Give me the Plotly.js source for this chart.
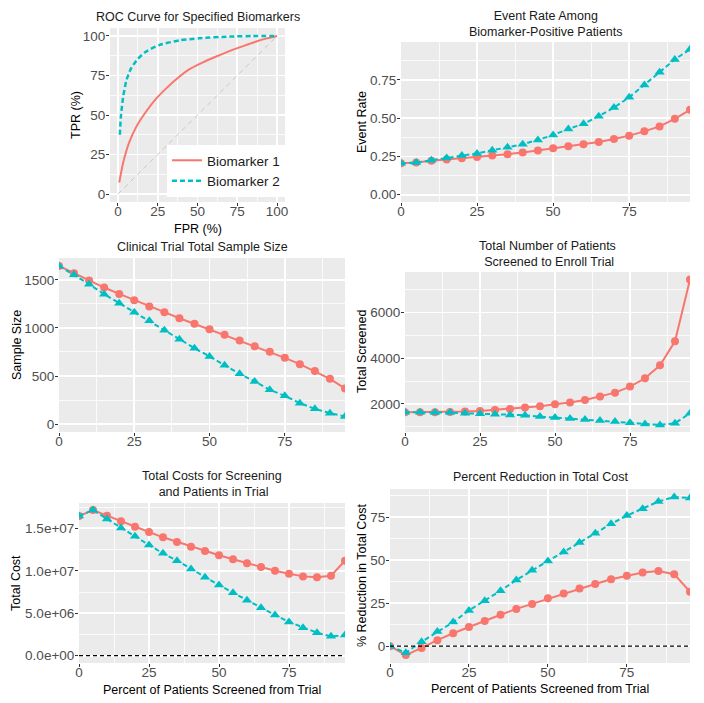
<!DOCTYPE html>
<html>
<head>
<meta charset="utf-8">
<script src="https://cdn.plot.ly/plotly-3.0.1.min.js"></script>
<style>
html,body{margin:0;padding:0;background:#fff;}
#chart{width:704px;height:703px;}
</style>
</head>
<body>
<div id="chart"></div>
<script>
// ---------------- DATA ----------------
const seriesNames = ["Biomarker 1", "Biomarker 2"];

// ROC curves (percent)
const rocFpr1 = [0.8, 3.2, 6.8, 11.5, 17.5, 24, 30, 36.5, 45, 53.4, 61.8, 71.6, 80, 87, 93, 100];
const rocTpr1 = [7.3, 19.5, 32, 42.5, 51.9, 60.3, 66.5, 72.5, 79, 83.3, 87, 91, 94, 96.5, 98.3, 100];
const rocFpr2 = [1.2, 1.8, 3.2, 5.2, 8, 12.4, 17.6, 26, 38.7, 51, 70, 85, 100];
const rocTpr2 = [37.5, 48.5, 61, 71.5, 79, 85.4, 90, 94.2, 97.2, 98.5, 99.6, 99.9, 100];
const refLine = [0, 100];

// Percent of patients screened from trial
const pctScreened = [0, 5, 10, 15, 20, 25, 30, 35, 40, 45, 50, 55, 60, 65, 70, 75, 80, 85, 90, 95];

// Event rate among biomarker-positive patients
const eventRate1 = [0.205, 0.211, 0.222, 0.230, 0.239, 0.246, 0.256, 0.265, 0.276, 0.289, 0.304, 0.317, 0.330, 0.345, 0.364, 0.386, 0.414, 0.446, 0.496, 0.555];
const eventRate2 = [0.205, 0.210, 0.225, 0.240, 0.256, 0.270, 0.290, 0.310, 0.330, 0.358, 0.390, 0.430, 0.463, 0.513, 0.569, 0.636, 0.716, 0.800, 0.884, 0.950];

// Clinical trial total sample size
const sampleSize1 = [1645, 1569, 1493, 1420, 1354, 1288, 1223, 1164, 1101, 1043, 987, 928, 869, 810, 752, 689, 623, 551, 471, 371];
const sampleSize2 = [1645, 1552, 1455, 1351, 1257, 1164, 1074, 977, 883, 790, 703, 613, 523, 443, 357, 294, 218, 159, 114, 80];

// Total number of patients screened
const screened1 = [1635, 1635, 1640, 1650, 1665, 1690, 1735, 1780, 1840, 1900, 1985, 2060, 2175, 2320, 2495, 2760, 3125, 3695, 4745, 7450];
const screened2 = [1635, 1635, 1620, 1620, 1590, 1575, 1545, 1520, 1505, 1445, 1400, 1360, 1315, 1270, 1225, 1170, 1125, 1080, 1155, 1590];

// Total costs
const totalCost1 = [16450000, 17160000, 16490000, 15820000, 15190000, 14570000, 13940000, 13390000, 12840000, 12330000, 11820000, 11350000, 10880000, 10440000, 10010000, 9660000, 9340000, 9230000, 9420000, 11190000];
const totalCost2 = [16450000, 17160000, 16100000, 15040000, 14060000, 13030000, 12050000, 11190000, 10210000, 9230000, 8320000, 7420000, 6520000, 5650000, 4790000, 3970000, 3300000, 2710000, 2280000, 2430000];

// Percent reduction in total cost
const pctReduction1 = [0, -5.2, -1, 3.5, 7.5, 11.2, 14.6, 18.3, 21.7, 24.6, 27.9, 30.6, 33.5, 36.2, 39, 41, 42.9, 43.8, 41.9, 31.7];
const pctReduction2 = [0, -3.8, 2.5, 8.5, 14, 20.8, 26.5, 32.3, 38.5, 44.2, 49.6, 54.8, 60.4, 65.8, 71.2, 76, 80, 84.2, 86.9, 86.2];

// Tick labels
const xTickVals = [0, 25, 50, 75];
const rocTickVals = [0, 25, 50, 75, 100];
const costTickVals = [0, 5000000, 10000000, 15000000];
const costTickText = ["0.0e+00", "5.0e+06", "1.0e+07", "1.5e+07"];

// Titles
const panelTitles = [
  "ROC Curve for Specified Biomarkers",
  "Event Rate Among<br>Biomarker-Positive Patients",
  "Clinical Trial Total Sample Size",
  "Total Number of Patients<br> Screened to Enroll Trial",
  "Total Costs for Screening<br> and Patients in Trial",
  "Percent Reduction in Total Cost"
];
const yTitles = ["TPR (%)", "Event Rate", "Sample Size", "Total Screened", "Total Cost", "% Reduction in Total Cost"];
const xTitles = ["FPR (%)", "", "", "", "Percent of Patients Screened from Trial", "Percent of Patients Screened from Trial"];

// ---------------- STYLE / LAYOUT ----------------
const W = 704, H = 703;
const RED = "#F8766D", TEAL = "#00BFC4";
const FONT = "Liberation Sans, Arial, Helvetica, sans-serif";

// panel boxes in px: [left, right, top, bottom]
const boxes = [
  [110, 285, 28, 202],
  [401, 690, 42, 202],
  [59, 345, 258, 432],
  [405, 690, 272, 432],
  [79, 345, 503, 663],
  [390, 690, 489, 663]
];
const titleY = [17, 24, 247, 254, 484.5, 477];
const yTitleX = [76, 362, 17, 362, 16, 362];
const xTitleY = [228.5, 0, 0, 0, 690, 689];

function xd(b){ return [b[0]/W, b[1]/W]; }
function yd(b){ return [1 - b[3]/H, 1 - b[2]/H]; }

const MINOR = {showgrid: true, gridcolor: "#ffffff", gridwidth: 0.8};
function axisBase(isX, extra){
  return Object.assign({
    showgrid: true, gridcolor: "#ffffff", gridwidth: 1.7,
    zeroline: false, showline: false,
    ticks: "outside", ticklen: 3, tickwidth: 1, tickcolor: "#333333",
    tickfont: {family: FONT, size: 13.5, color: "#4d4d4d"},
    ticklabelstandoff: isX ? -6 : -2,
    automargin: false,
    layer: "below traces"
  }, extra);
}

const layout = {
  width: W, height: H,
  margin: {l: 0, r: 0, t: 0, b: 0},
  paper_bgcolor: "#ffffff",
  plot_bgcolor: "#EBEBEB",
  font: {family: FONT},
  showlegend: true,
  legend: {
    x: 285/W, xanchor: "right", y: 1 - 197/H, yanchor: "bottom",
    bgcolor: "#ffffff", borderwidth: 0,
    font: {family: FONT, size: 13.5, color: "#1a1a1a"},
    itemwidth: 30, tracegroupgap: 0
  },
  annotations: [],
  shapes: []
};

// ROC axes
layout.xaxis = axisBase(true, {domain: xd(boxes[0]), anchor: "y", range: [-5, 105],
  tickmode: "array", tickvals: rocTickVals, minor: Object.assign({tick0: 0, dtick: 12.5}, MINOR)});
layout.yaxis = axisBase(false, {domain: yd(boxes[0]), anchor: "x", range: [-5, 105],
  tickmode: "array", tickvals: rocTickVals, minor: Object.assign({tick0: 0, dtick: 12.5}, MINOR)});

const yInfo = [
  null,
  {range: [-0.0475, 0.9975], dtick: 0.25, minor: 0.125, fmt: ".2f"},
  {range: [-82, 1727], dtick: 500, minor: 250, fmt: "d"},
  {range: [770, 7780], dtick: 2000, minor: 1000, fmt: "d"},
  {range: [-860000, 17980000], array: true, minor: 2500000},
  {range: [-9.8, 91.5], dtick: 25, minor: 12.5, fmt: "d"}
];

for (let i = 1; i < 6; i++) {
  const n = i + 1;
  const b = boxes[i];
  const info = yInfo[i];
  layout["xaxis" + n] = axisBase(true, {domain: xd(b), anchor: "y" + n, range: [0, 95],
    tickmode: "array", tickvals: xTickVals,
    minor: Object.assign({tick0: 0, dtick: 12.5}, MINOR)});
  const ya = axisBase(false, {domain: yd(b), anchor: "x" + n, range: info.range,
    minor: Object.assign({tick0: 0, dtick: info.minor}, MINOR)});
  if (info.array) { ya.tickmode = "array"; ya.tickvals = costTickVals; ya.ticktext = costTickText; }
  else { ya.tickmode = "linear"; ya.tick0 = 0; ya.dtick = info.dtick; ya.tickformat = info.fmt; }
  layout["yaxis" + n] = ya;
}

// Panel titles and axis titles
panelTitles.forEach((t, i) => {
  const b = boxes[i];
  layout.annotations.push({
    text: t, xref: "paper", yref: "paper",
    x: (b[0] + b[1]) / 2 / W, y: 1 - titleY[i] / H,
    xanchor: "center", yanchor: "middle", showarrow: false,
    font: {family: FONT, size: 12.5, color: "#1a1a1a"}, align: "center"
  });
  layout.annotations.push({
    text: yTitles[i], xref: "paper", yref: "paper", textangle: -90,
    x: yTitleX[i] / W, y: 1 - (b[2] + b[3]) / 2 / H,
    xanchor: "center", yanchor: "middle", showarrow: false,
    font: {family: FONT, size: 12.5, color: "#000"}
  });
  if (xTitles[i]) {
    layout.annotations.push({
      text: xTitles[i], xref: "paper", yref: "paper",
      x: (b[0] + b[1]) / 2 / W, y: 1 - xTitleY[i] / H,
      xanchor: "center", yanchor: "middle", showarrow: false,
      font: {family: FONT, size: 12.5, color: "#000"}
    });
  }
});

// Horizontal zero lines on cost panels
["y5", "y6"].forEach((yr, k) => {
  layout.shapes.push({type: "line", xref: "x" + (k + 5) + " domain", yref: yr,
    x0: 0, x1: 1, y0: 0, y1: 0, line: {color: "#000", width: 1.2, dash: "4px,3px"}, layer: "above"});
});

// ---------------- TRACES ----------------
const traces = [];
// Reference diagonal
traces.push({x: refLine, y: refLine, xaxis: "x", yaxis: "y", mode: "lines", showlegend: false,
  line: {color: "#c8c8c8", width: 1, dash: "5px,4px"}, hoverinfo: "skip"});
traces.push({x: rocFpr1, y: rocTpr1, xaxis: "x", yaxis: "y", mode: "lines", name: seriesNames[0],
  line: {color: RED, width: 2, shape: "spline", smoothing: 0.6}});
traces.push({x: rocFpr2, y: rocTpr2, xaxis: "x", yaxis: "y", mode: "lines", name: seriesNames[1],
  line: {color: TEAL, width: 2.5, dash: "5px,3px", shape: "spline", smoothing: 0.6}});

const panelSeries = [
  null,
  [eventRate1, eventRate2],
  [sampleSize1, sampleSize2],
  [screened1, screened2],
  [totalCost1, totalCost2],
  [pctReduction1, pctReduction2]
];
for (let i = 1; i < 6; i++) {
  const n = i + 1;
  traces.push({x: pctScreened, y: panelSeries[i][0], xaxis: "x" + n, yaxis: "y" + n,
    mode: "lines+markers", showlegend: false, name: seriesNames[0], cliponaxis: true,
    line: {color: RED, width: 2}, marker: {color: RED, size: 8, symbol: "circle"}});
  traces.push({x: pctScreened, y: panelSeries[i][1], xaxis: "x" + n, yaxis: "y" + n,
    mode: "lines+markers", showlegend: false, name: seriesNames[1], cliponaxis: true,
    line: {color: TEAL, width: 2, dash: "5px,3px"}, marker: {color: TEAL, size: 9, symbol: "triangle-up"}});
}

Plotly.newPlot("chart", traces, layout, {staticPlot: true, displayModeBar: false});
</script>
</body>
</html>
